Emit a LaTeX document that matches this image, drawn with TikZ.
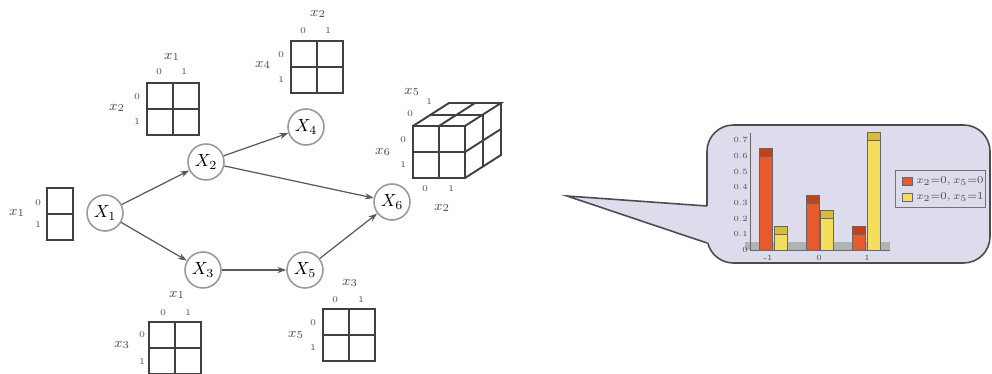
\documentclass[tikz,border=0pt]{standalone}
\usepackage{tikz}
\usetikzlibrary{arrows.meta}

\definecolor{barred}{HTML}{E85A2C}
\definecolor{barredtop}{HTML}{C2401C}
\definecolor{baryel}{HTML}{F4DE5C}
\definecolor{baryeltop}{HTML}{D6BC3C}
\definecolor{bubble}{HTML}{DCDCEC}

% a 2x2 table, top left corner given in pixels
\newcommand{\cpdtab}[2]{%
  \draw[tab] (#1,#2) rectangle ++(52,52);
  \draw[tab] (#1+26,#2) -- ++(0,52);
  \draw[tab] (#1,#2+26) -- ++(52,0);
}

\begin{document}
\begin{tikzpicture}[x=0.02cm,y=-0.02cm,
  var/.style={circle,draw=black!40,line width=0.9pt,minimum size=0.72cm,inner sep=0pt},
  tab/.style={draw=black!75,line width=1.1pt},
  edge/.style={draw=black!65,line width=0.7pt,-{Stealth[length=5pt,width=3.5pt]}},
  lab/.style={font=\footnotesize,inner sep=0pt,text=black!70},
  val/.style={font=\tiny,inner sep=0pt,text=black!70},
  tick/.style={font=\fontsize{4.5}{5}\selectfont,inner sep=0pt,text=black!70}]
 \useasboundingbox (0,0) rectangle (992,374);

 % variables
 \node[var] (X1) at (105,213) {$X_1$};
 \node[var] (X2) at (206,162) {$X_2$};
 \node[var] (X4) at (306,127) {$X_4$};
 \node[var] (X3) at (203,270) {$X_3$};
 \node[var] (X5) at (305,270) {$X_5$};
 \node[var] (X6) at (392,202) {$X_6$};
 \draw[edge] (X1) -- (X2);
 \draw[edge] (X1) -- (X3);
 \draw[edge] (X2) -- (X4);
 \draw[edge] (X2) -- (X6);
 \draw[edge] (X3) -- (X5);
 \draw[edge] (X5) -- (X6);

 % table of X1
 \draw[tab] (47,188) rectangle (73,240);
 \draw[tab] (47,214) -- (73,214);
 \node[lab] (t1row) at (17,213) {$x_1$};
 \node[val] (t1r0) at (38,203) {0};
 \node[val] (t1r1) at (38,225) {1};

 % table of X2
 \cpdtab{147}{83}
 \node[lab] (t2col) at (172,57) {$x_1$};
 \node[val] (t2c0) at (159,72) {0};
 \node[val] (t2c1) at (184,72) {1};
 \node[lab] (t2row) at (117,108) {$x_2$};
 \node[val] (t2r0) at (137,97) {0};
 \node[val] (t2r1) at (137,122) {1};

 % table of X4
 \cpdtab{291}{41}
 \node[lab] (t4col) at (318,14) {$x_2$};
 \node[val] (t4c0) at (303,31) {0};
 \node[val] (t4c1) at (328,31) {1};
 \node[lab] (t4row) at (263,65) {$x_4$};
 \node[val] (t4r0) at (281,55) {0};
 \node[val] (t4r1) at (281,80) {1};

 % table of X3
 \cpdtab{149}{322}
 \node[lab] (t3col) at (177,295) {$x_1$};
 \node[val] (t3c0) at (163,313) {0};
 \node[val] (t3c1) at (188,313) {1};
 \node[lab] (t3row) at (122,345) {$x_3$};
 \node[val] (t3r0) at (142,335) {0};
 \node[val] (t3r1) at (142,362) {1};

 % table of X5
 \cpdtab{323}{309}
 \node[lab] (t5col) at (350,283) {$x_3$};
 \node[val] (t5c0) at (335,300) {0};
 \node[val] (t5c1) at (361,300) {1};
 \node[lab] (t5row) at (296,335) {$x_5$};
 \node[val] (t5r0) at (313,323) {0};
 \node[val] (t5r1) at (313,348) {1};

 % cube of X6
 \draw[tab] (413,126) rectangle (465,178);
 \draw[tab] (439,126) -- (439,178);
 \draw[tab] (413,152) -- (465,152);
 \draw[tab] (413,126) -- (449,103) -- (501,103) -- (465,126);
 \draw[tab] (439,126) -- (475,103);
 \draw[tab] (431,115) -- (483,115);
 \draw[tab] (501,103) -- (501,155) -- (465,178);
 \draw[tab] (483,115) -- (483,167);
 \draw[tab] (465,152) -- (501,129);
 \node[lab] (t6dep) at (412,92) {$x_5$};
 \node[val] (t6d1) at (429,102) {1};
 \node[val] (t6d0) at (410,114) {0};
 \node[lab] (t6row) at (383,152) {$x_6$};
 \node[val] (t6r0) at (403,140) {0};
 \node[val] (t6r1) at (403,165) {1};
 \node[val] (t6c0) at (425,189) {0};
 \node[val] (t6c1) at (451,189) {1};
 \node[lab] (t6col) at (442,208) {$x_2$};

 % callout with the chart
 \filldraw[fill=bubble,draw=black!70,line width=0.9pt,rounded corners=15] (707,125) rectangle (990,263);
 \fill[bubble] (567,196) -- (709,206) -- (709,243) -- cycle;
 \draw[black!70,line width=0.9pt] (707,206) -- (567,196) -- (707,243);
 \fill[black!30] (745,242) rectangle (890,250);
 \draw[black!60,line width=0.3pt] (750,133) -- (750,250) -- (890,250);
 \foreach \v/\n [count=\i] in {0/0,0.1/0.1,0.2/0.2,0.3/0.3,0.4/0.4,0.5/0.5,0.6/0.6,0.7/0.7}
   \node[tick,anchor=east] (yt\i) at (748,250-\v*157) {\n};
 \foreach \xa/\h/\col in {759/0.6/barred,806/0.3/barred,852/0.1/barred,
                          774/0.1/baryel,820/0.2/baryel,867/0.7/baryel}{
   \filldraw[fill=\col,draw=black!60,line width=0.2pt] (\xa,250) rectangle (\xa+13,250-\h*157);
   \filldraw[fill=\col top,draw=black!60,line width=0.2pt] (\xa,250-\h*157) rectangle (\xa+13,250-\h*157-8);
 }
 \node[tick] (xt1) at (768,258) {-1};
 \node[tick] (xt2) at (819,258) {0};
 \node[tick] (xt3) at (867,258) {1};

 % legend
 \draw[black!55,line width=0.5pt] (895,170) rectangle (985,207);
 \filldraw[fill=barred,draw=black!60,line width=0.2pt] (902,177) rectangle (912,185);
 \filldraw[fill=baryel,draw=black!60,line width=0.2pt] (902,193) rectangle (912,201);
 \node[tick,anchor=west,font=\fontsize{6}{6}\selectfont] (lg1) at (916,181) {$x_2{=}0,x_5{=}0$};
 \node[tick,anchor=west,font=\fontsize{6}{6}\selectfont] (lg2) at (916,197) {$x_2{=}0,x_5{=}1$};
\end{tikzpicture}
\end{document}
